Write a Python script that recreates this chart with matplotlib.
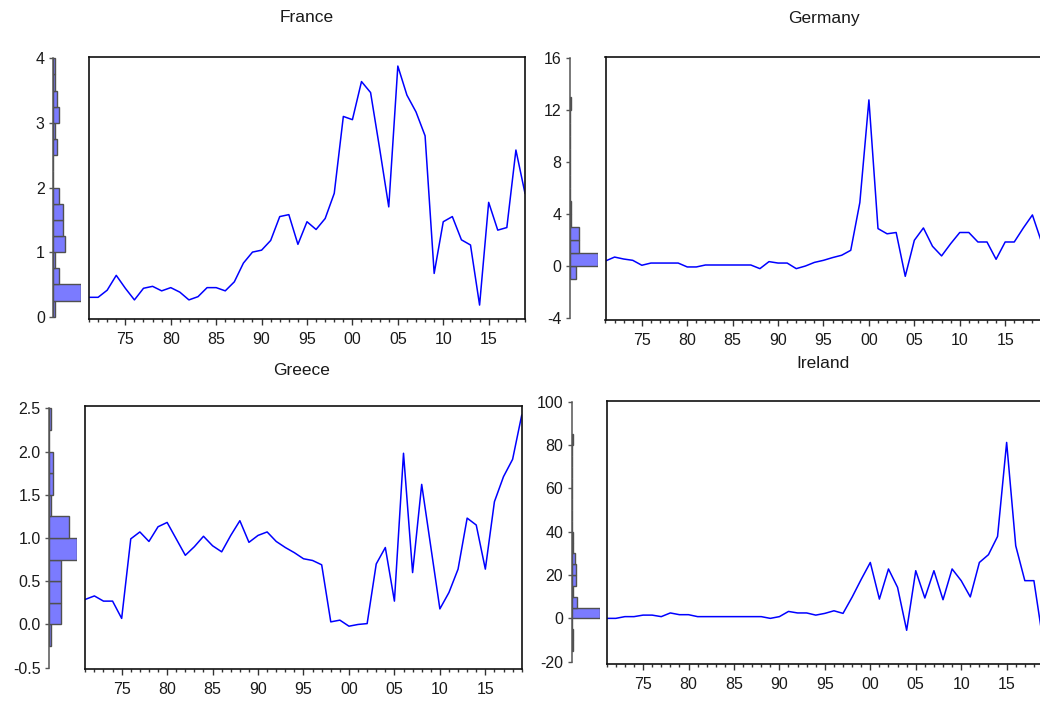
import numpy as np
import matplotlib
matplotlib.use("Agg")
import matplotlib.pyplot as plt

plt.rcParams['font.family'] = ['Liberation Sans', 'DejaVu Sans']

years = list(range(1971, 2020))

france = [0.30, 0.30, 0.41, 0.64, 0.44, 0.26, 0.44, 0.47, 0.40, 0.45,
          0.38, 0.26, 0.31, 0.45, 0.45, 0.40, 0.54, 0.83, 1.00, 1.03,
          1.18, 1.55, 1.58, 1.12, 1.47, 1.35, 1.52, 1.91, 3.10, 3.05,
          3.64, 3.47, 2.60, 1.70, 3.88, 3.43, 3.17, 2.80, 0.67, 1.47,
          1.55, 1.19, 1.11, 0.18, 1.77, 1.34, 1.38, 2.58, 1.91]

germany = [0.41, 0.71, 0.56, 0.46, 0.08, 0.25, 0.25, 0.25, 0.25, -0.05,
           -0.05, 0.10, 0.10, 0.10, 0.10, 0.10, 0.10, -0.18, 0.36, 0.25,
           0.25, -0.18, 0.02, 0.30, 0.46, 0.67, 0.85, 1.23, 4.90, 12.80,
           2.90, 2.50, 2.60, -0.77, 2.00, 2.95, 1.54, 0.80, 1.74, 2.60,
           2.60, 1.87, 1.87, 0.54, 1.87, 1.87, 2.95, 3.95, 1.87]

greece = [0.29, 0.33, 0.27, 0.27, 0.07, 0.99, 1.07, 0.96, 1.13, 1.18,
          0.99, 0.80, 0.90, 1.02, 0.91, 0.84, 1.03, 1.20, 0.95, 1.03,
          1.07, 0.96, 0.89, 0.83, 0.76, 0.74, 0.69, 0.03, 0.05, -0.02,
          0.00, 0.01, 0.70, 0.89, 0.27, 1.98, 0.60, 1.62, 0.90, 0.18,
          0.37, 0.64, 1.23, 1.15, 0.64, 1.42, 1.71, 1.91, 2.42]

ireland = [0.0, 0.0, 0.8, 0.8, 1.5, 1.5, 0.8, 2.5, 1.7, 1.7,
           0.8, 0.8, 0.8, 0.8, 0.8, 0.8, 0.8, 0.8, 0.0, 0.8,
           3.2, 2.5, 2.5, 1.5, 2.3, 3.5, 2.3, 9.8, 18.0, 25.8,
           8.9, 22.8, 14.3, -5.5, 22.0, 9.4, 22.0, 8.6, 22.8, 17.4,
           9.9, 25.8, 29.4, 37.8, 81.2, 33.5, 17.4, 17.4, -10.5]

titles = ["France", "Germany", "Greece", "Ireland"]
series = [france, germany, greece, ireland]
y_ticks = [[0, 1, 2, 3, 4], [-4, 0, 4, 8, 12, 16],
           [-0.5, 0.0, 0.5, 1.0, 1.5, 2.0, 2.5], [-20, 0, 20, 40, 60, 80, 100]]
y_ticklabels = [["0", "1", "2", "3", "4"], ["-4", "0", "4", "8", "12", "16"],
                ["-0.5", "0.0", "0.5", "1.0", "1.5", "2.0", "2.5"],
                ["-20", "0", "20", "40", "60", "80", "100"]]
bin_specs = [(0.0, 4.0, 0.25), (-1.0, 13.0, 1.0), (-0.25, 2.5, 0.25), (-15.0, 85.0, 5.0)]

# layout in pixels: hist axis x, box left, box right, box top, box bottom,
# pixel of lowest tick, pixel of highest tick, title (x, y)
layout = [
    dict(hx=53.3, l=89.0, r=525.0, t=56.7, b=319.3, ylo=316.7, yhi=58.3, tx=307, ty=18),
    dict(hx=570.0, l=605.5, r=1041.5, t=56.7, b=320.0, ylo=318.3, yhi=58.3, tx=824, ty=18),
    dict(hx=49.0, l=85.3, r=521.7, t=406.0, b=669.0, ylo=667.7, yhi=408.3, tx=302, ty=370),
    dict(hx=571.7, l=606.7, r=1043.0, t=400.7, b=664.0, ylo=661.7, yhi=401.7, tx=823, ty=363),
]

W, H = 1040, 702
fig = plt.figure(figsize=(W / 100, H / 100), dpi=100)


def add_px_axes(l, t, r, b):
    return fig.add_axes([l / W, 1 - b / H, (r - l) / W, (b - t) / H])


HIST_W = 28.0
text_col = "#1a1a1a"

for k in range(4):
    L = layout[k]
    ticks = y_ticks[k]
    vmin, vmax = ticks[0], ticks[-1]
    upp = (vmax - vmin) / (L['ylo'] - L['yhi'])
    ylim = (vmin - (L['b'] - L['ylo']) * upp, vmax + (L['yhi'] - L['t']) * upp)

    # main line axes
    ax = add_px_axes(L['l'], L['t'], L['r'], L['b'])
    ax.plot(years, series[k], color="#0000ff", lw=1.1)
    ax.set_xlim(1971, 2019)
    ax.set_ylim(*ylim)
    ax.set_yticks([])
    major = [y for y in years if y % 5 == 0]
    ax.set_xticks(major)
    ax.set_xticklabels([f"{y % 100:02d}" for y in major])
    ax.set_xticks(years, minor=True)
    ax.tick_params(axis='x', which='major', direction='out', length=4.6, width=1.0,
                   pad=4.5, labelsize=11.5, colors="#333333", labelcolor=text_col)
    ax.tick_params(axis='x', which='minor', direction='out', length=2.5, width=1.0,
                   colors="#333333")
    for s in ax.spines.values():
        s.set_color("#111111")
        s.set_linewidth(1.2)

    # histogram axes
    hax = add_px_axes(L['hx'], L['t'], L['hx'] + HIST_W, L['b'])
    lo, hi, w = bin_specs[k]
    edges = np.arange(lo, hi + w / 2, w)
    counts, _, _ = hax.hist(series[k], bins=edges, orientation='horizontal',
                            color="#7b7bff", edgecolor="#505050", linewidth=1.0)
    hax.set_xlim(0, counts.max())
    hax.set_ylim(*ylim)
    hax.set_xticks([])
    hax.set_yticks(ticks)
    hax.set_yticklabels(y_ticklabels[k])
    hax.tick_params(axis='y', direction='out', length=2.6, width=1.0, pad=3.5,
                    labelsize=11.5, colors="#555555", labelcolor=text_col)
    for side in ['top', 'right', 'bottom']:
        hax.spines[side].set_visible(False)
    hax.spines['left'].set_bounds(vmin, vmax)
    hax.spines['left'].set_color("#555555")
    hax.spines['left'].set_linewidth(1.1)
    hax.patch.set_alpha(0)

    fig.text(L['tx'] / W, 1 - L['ty'] / H, titles[k], ha='center', va='center',
             fontsize=12.5, color=text_col)

fig.savefig("out.png", dpi=100, facecolor="white")
